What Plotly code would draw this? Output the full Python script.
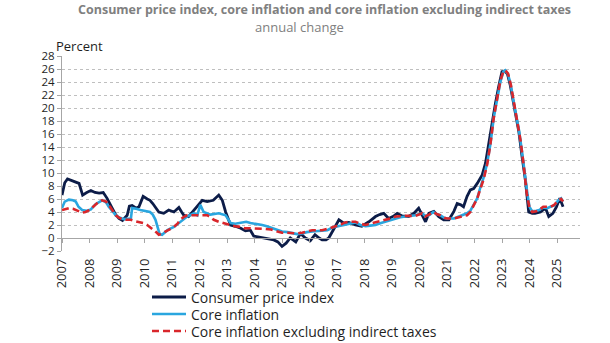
import plotly.graph_objects as go

# ---- data (decimal year, annual % change) ----
cpi_x = [2007.0, 2007.1, 2007.2, 2007.35, 2007.5, 2007.62, 2007.75, 2007.9, 2008.05, 2008.2, 2008.35, 2008.5,
         2008.64, 2008.8, 2008.95, 2009.07, 2009.2, 2009.37, 2009.45, 2009.55, 2009.7, 2009.8, 2009.95, 2010.1,
         2010.2, 2010.3, 2010.42, 2010.52, 2010.7, 2010.88, 2011.07, 2011.25, 2011.35, 2011.43, 2011.6, 2011.8,
         2011.97, 2012.1, 2012.28, 2012.5, 2012.7, 2012.83, 2012.95, 2013.13, 2013.3, 2013.5, 2013.67, 2013.85,
         2013.97, 2014.1, 2014.25, 2014.4, 2014.55, 2014.7, 2014.85, 2015.0, 2015.15, 2015.3, 2015.4, 2015.5,
         2015.67, 2015.85, 2016.03, 2016.2, 2016.35, 2016.46, 2016.6, 2016.7, 2016.9, 2017.07, 2017.25, 2017.43,
         2017.67, 2017.9, 2018.16, 2018.4, 2018.55, 2018.7, 2018.88, 2019.07, 2019.19, 2019.37, 2019.6, 2019.8,
         2019.97, 2020.1, 2020.22, 2020.34, 2020.52, 2020.7, 2020.88, 2021.07, 2021.25, 2021.37, 2021.5, 2021.6,
         2021.73, 2021.85, 2021.97, 2022.1, 2022.28, 2022.4, 2022.52, 2022.64, 2022.76, 2022.88, 2023.0, 2023.1,
         2023.2, 2023.3, 2023.37, 2023.49, 2023.61, 2023.73, 2023.85, 2023.97, 2024.1, 2024.2, 2024.4, 2024.58,
         2024.7, 2024.85, 2024.98, 2025.1, 2025.22]
cpi_y = [6.6, 8.5, 9.1, 8.8, 8.6, 8.4, 6.6, 7.0, 7.3, 7.0, 6.9, 7.0,
         6.1, 4.8, 3.6, 3.0, 2.7, 3.5, 4.9, 5.0, 4.6, 4.8, 6.4, 6.0,
         5.8, 5.3, 4.6, 4.0, 3.8, 4.3, 4.0, 4.7, 4.0, 3.5, 3.3, 4.3,
         5.1, 5.8, 5.6, 5.8, 6.6, 5.8, 4.0, 2.0, 1.8, 1.5, 1.1, 1.2,
         0.3, 0.2, 0.1, 0.0, -0.1, -0.3, -0.6, -1.3, -0.8, 0.0, -0.3, -0.6,
         0.7, 0.0, -0.4, 0.5, 0.0, -0.3, -0.3, 0.0, 1.5, 2.8, 2.3, 2.4,
         2.0, 1.8, 2.5, 3.3, 3.6, 3.8, 3.0, 3.4, 3.8, 3.4, 3.3, 3.8,
         4.6, 3.6, 2.5, 3.8, 4.1, 3.3, 2.8, 2.8, 4.1, 5.3, 5.1, 4.8,
         6.4, 7.4, 7.6, 8.4, 9.7, 11.5, 14.6, 18.2, 20.7, 23.3, 25.6, 25.7,
         25.2, 23.5, 21.8, 18.7, 16.4, 12.5, 8.9, 4.0, 3.8, 3.8, 4.0, 4.6,
         3.3, 3.8, 4.8, 6.1, 4.8]

core_x = [2007.0, 2007.1, 2007.25, 2007.4, 2007.5, 2007.6, 2007.73, 2007.9, 2008.05, 2008.22, 2008.46, 2008.6,
          2008.7, 2008.85, 2009.0, 2009.25, 2009.45, 2009.5, 2009.55, 2009.7, 2009.85, 2010.2, 2010.3, 2010.4,
          2010.5, 2010.55, 2010.64, 2010.83, 2011.07, 2011.3, 2011.55, 2011.8, 2011.92, 2012.03, 2012.15, 2012.4,
          2012.55, 2012.7, 2012.95, 2013.13, 2013.3, 2013.5, 2013.7, 2013.85, 2014.05, 2014.28, 2014.45, 2014.65,
          2014.8, 2015.0, 2015.2, 2015.37, 2015.55, 2015.73, 2015.9, 2016.1, 2016.3, 2016.46, 2016.65, 2016.83,
          2016.95, 2017.1, 2017.3, 2017.5, 2017.67, 2017.85, 2018.04, 2018.2, 2018.4, 2018.6, 2018.76, 2018.95,
          2019.13, 2019.3, 2019.49, 2019.7, 2019.85, 2020.1, 2020.2, 2020.35, 2020.5, 2020.62, 2020.75, 2020.9,
          2021.0, 2021.25, 2021.5, 2021.73, 2021.85, 2021.97, 2022.1, 2022.2, 2022.33, 2022.46, 2022.58, 2022.7,
          2022.82, 2022.94, 2023.05, 2023.12, 2023.22, 2023.32, 2023.42, 2023.52, 2023.62, 2023.72, 2023.82, 2023.92,
          2024.0, 2024.1, 2024.25, 2024.35, 2024.5, 2024.65, 2024.76, 2024.9, 2025.05, 2025.15, 2025.22]
core_y = [4.6, 5.6, 5.9, 5.8, 5.6, 4.8, 4.3, 4.2, 4.4, 5.2, 5.8, 5.5,
          4.8, 4.0, 3.3, 2.9, 3.0, 2.8, 4.6, 4.5, 4.3, 4.0, 3.6, 2.8,
          1.0, 0.6, 0.5, 1.2, 1.7, 2.5, 3.3, 3.8, 3.5, 5.1, 4.0, 3.6,
          3.7, 3.8, 3.5, 2.3, 2.2, 2.4, 2.5, 2.3, 2.2, 2.0, 1.8, 1.5,
          1.3, 1.0, 0.9, 0.7, 0.6, 0.7, 0.9, 1.0, 1.1, 1.2, 1.2, 1.6,
          1.7, 1.9, 2.0, 2.2, 2.4, 2.0, 1.8, 1.9, 2.0, 2.3, 2.5, 2.8,
          3.0, 3.2, 3.3, 3.4, 3.5, 3.8, 3.4, 3.5, 4.0, 3.7, 3.5, 3.1,
          3.0, 3.0, 3.4, 3.8, 4.2, 5.1, 6.1, 7.6, 9.3, 11.5, 14.5, 18.5,
          21.5, 24.0, 25.6, 25.8, 25.2, 23.5, 21.0, 18.8, 16.5, 13.5, 10.0, 6.9,
          4.8, 4.1, 4.2, 4.3, 4.7, 4.6, 4.8, 5.0, 5.8, 6.1, 5.6]

extax_x = [2007.0, 2007.1, 2007.25, 2007.4, 2007.5, 2007.62, 2007.73, 2007.85, 2008.0, 2008.1, 2008.22, 2008.35,
           2008.46, 2008.6, 2008.7, 2008.82, 2008.95, 2009.08, 2009.2, 2009.35, 2009.5, 2009.65, 2009.8, 2009.95,
           2010.1, 2010.2, 2010.34, 2010.45, 2010.52, 2010.64, 2010.76, 2010.9, 2011.07, 2011.2, 2011.3, 2011.42,
           2011.55, 2011.7, 2011.9, 2012.1, 2012.28, 2012.4, 2012.52, 2012.7, 2012.88, 2013.0, 2013.15, 2013.3,
           2013.5, 2013.65, 2013.85, 2014.0, 2014.2, 2014.4, 2014.6, 2014.8, 2015.0, 2015.2, 2015.37, 2015.55,
           2015.73, 2015.9, 2016.1, 2016.3, 2016.46, 2016.65, 2016.83, 2016.95, 2017.15, 2017.3, 2017.5, 2017.67,
           2017.85, 2018.04, 2018.2, 2018.4, 2018.6, 2018.76, 2018.95, 2019.13, 2019.3, 2019.49, 2019.7, 2019.85,
           2020.1, 2020.2, 2020.35, 2020.5, 2020.62, 2020.75, 2020.9, 2021.0, 2021.25, 2021.5, 2021.73, 2021.85,
           2021.97, 2022.1, 2022.2, 2022.33, 2022.46, 2022.58, 2022.7, 2022.82, 2022.94, 2023.05, 2023.12, 2023.22,
           2023.32, 2023.42, 2023.52, 2023.62, 2023.67, 2023.78, 2023.9, 2024.0, 2024.1, 2024.25, 2024.35, 2024.5,
           2024.65, 2024.76, 2024.9, 2025.05, 2025.15, 2025.22]
extax_y = [4.3, 4.4, 4.6, 4.5, 4.3, 4.1, 3.9, 4.0, 4.3, 4.7, 5.2, 5.6,
           5.8, 5.6, 5.1, 4.4, 3.5, 3.1, 2.9, 2.8, 2.8, 2.6, 2.5, 2.3,
           2.0, 1.7, 1.2, 0.8, 0.5, 0.7, 1.0, 1.3, 1.7, 2.2, 2.8, 3.2,
           3.5, 3.5, 3.5, 3.4, 3.5, 3.2, 2.8, 2.5, 2.3, 2.2, 2.0, 1.8,
           1.7, 1.5, 1.5, 1.5, 1.5, 1.4, 1.3, 1.1, 0.8, 0.8, 0.7, 0.7,
           0.8, 1.0, 1.2, 1.2, 1.2, 1.4, 1.6, 1.8, 2.1, 2.4, 2.5, 2.5,
           2.2, 2.0, 2.2, 2.4, 2.6, 2.8, 3.0, 3.3, 3.4, 3.4, 3.4, 3.4,
           3.8, 3.3, 3.6, 4.0, 3.7, 3.5, 3.1, 3.0, 3.0, 3.3, 3.5, 4.0,
           5.1, 6.1, 7.4, 9.0, 11.3, 14.5, 18.5, 21.5, 24.2, 25.6, 25.8, 25.3,
           23.6, 21.2, 19.0, 16.7, 15.1, 11.5, 6.9, 4.6, 4.0, 4.1, 4.3, 4.8,
           4.8, 4.8, 5.1, 5.8, 6.0, 5.6]

years = list(range(2007, 2026))
year_labels = [str(y) for y in years]
y_ticks = list(range(-2, 29, 2))

names = ["Consumer price index", "Core inflation", "Core inflation excluding indirect taxes"]

FONT = "Open Sans"
TXT = "#1f1f1f"
GRID = "#bfbfbf"

# plot-area geometry in pixels (used only to place layout items)
PL, PR, PT, PB = 62, 580, 56, 251
PW, PH = PR - PL, PB - PT


def px(x):
    return (x - PL) / PW


def py(y):
    return (PB - y) / PH


styles = [dict(color="#0c1c48", width=2.8, dash="solid"),
          dict(color="#2aa6df", width=2.6, dash="solid"),
          dict(color="#d9262b", width=2.6, dash="7px,4px")]
series = [(cpi_x, cpi_y), (core_x, core_y), (extax_x, extax_y)]

fig = go.Figure()
for (sx, sy), nm, st in zip(series, names, styles):
    fig.add_trace(go.Scatter(x=sx, y=sy, mode="lines", name=nm, line=st, showlegend=False))

xr = [2007, 2007 + PW / 27.5]
fig.update_layout(
    width=610, height=343,
    margin=dict(l=PL, r=610 - PR, t=PT, b=343 - PB, autoexpand=False),
    paper_bgcolor="white", plot_bgcolor="white",
    font=dict(family=FONT, size=12, color=TXT),
    showlegend=False,
    xaxis=dict(range=xr, tickmode="array", tickvals=years, ticktext=year_labels,
               tickangle=-90, showgrid=False, zeroline=False, showline=False,
               ticks="", ticklabelstandoff=4, tickfont=dict(size=13, color=TXT),
               automargin=False),
    xaxis2=dict(range=xr, matches="x", overlaying="x", anchor="free",
                position=2 / 30, tickmode="array", tickvals=years,
                showticklabels=False, showgrid=False, zeroline=False,
                showline=True, linecolor="#a6a6a6", linewidth=1,
                ticks="outside", ticklen=4, tickcolor="#a6a6a6"),
    yaxis=dict(range=[-2, 28], tickmode="array", tickvals=y_ticks,
               showgrid=True, gridcolor=GRID, griddash="dot", gridwidth=1,
               zeroline=False, showline=True, linecolor="#a6a6a6", linewidth=1,
               ticks="outside", ticklen=4, tickcolor="#a6a6a6",
               tickfont=dict(size=11.5, color=TXT), automargin=False),
)
# invisible trace to activate xaxis2
fig.add_trace(go.Scatter(x=[years[0]], y=[y_ticks[0]], xaxis="x2", mode="markers",
                         marker=dict(opacity=0), showlegend=False, hoverinfo="skip"))

# legend drawn below the plot (line sample + label per series)
leg_rows = [297, 314, 331]
for nm, st, ry in zip(names, styles, leg_rows):
    fig.add_shape(type="line", xref="paper", yref="paper",
                  x0=px(152), x1=px(186), y0=py(ry), y1=py(ry),
                  line=dict(color=st["color"], width=st["width"], dash=st["dash"]))
    fig.add_annotation(text=nm, xref="paper", yref="paper", x=px(189), y=py(ry),
                       xanchor="left", yanchor="middle", showarrow=False,
                       font=dict(size=14, color=TXT, family=FONT))

fig.add_annotation(text="<b>Consumer price index, core inflation and core inflation excluding indirect taxes</b>",
                   xref="paper", yref="paper", x=px(324), y=py(10),
                   xanchor="center", yanchor="middle", showarrow=False,
                   font=dict(size=12.5, color="#808080", family=FONT))
fig.add_annotation(text="annual change", xref="paper", yref="paper",
                   x=px(299), y=py(27),
                   xanchor="center", yanchor="middle", showarrow=False,
                   font=dict(size=13, color="#808080", family=FONT))
fig.add_annotation(text="Percent", xref="paper", yref="paper",
                   x=px(54), y=py(46),
                   xanchor="left", yanchor="middle", showarrow=False,
                   font=dict(size=13, color=TXT, family=FONT))

fig.write_html("out.html")
